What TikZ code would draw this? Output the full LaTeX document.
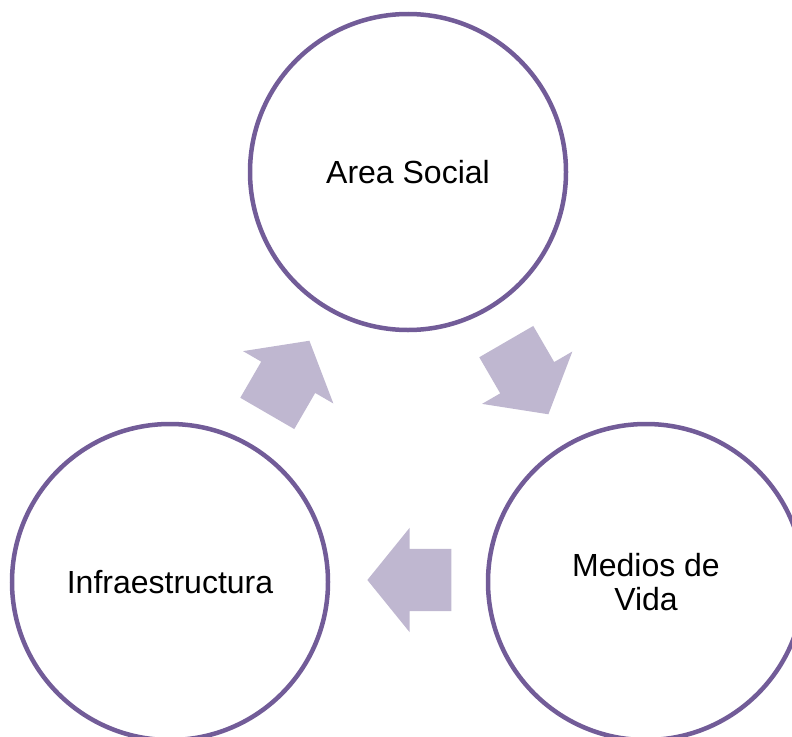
\documentclass[tikz,border=0pt]{standalone}
\usepackage{fontspec}
\setmainfont{Liberation Sans}
\usetikzlibrary{shapes.arrows}

\definecolor{ringpurple}{RGB}{114,92,152}
\definecolor{flowlilac}{RGB}{191,183,208}

\begin{document}
\begin{tikzpicture}[x=1pt,y=-1pt]
        \tikzstyle{area}=[circle,draw=ringpurple,line width=4.5pt,fill=white,minimum size=316pt,inner sep=0pt,align=center,font=\fontsize{32}{34}\selectfont]
        \tikzstyle{flow}=[single arrow,fill=flowlilac,draw=none,inner xsep=0pt,inner ysep=31pt,minimum height=84pt,minimum width=104pt,single arrow head extend=21pt,single arrow tip angle=102]

        \useasboundingbox (0,0) rectangle (792,736);
        \clip (0,0) rectangle (792,736);

       \begin{scope}

         \node [area] (social) at (408,172) {Area Social};
         \node [area] (medios) at (646,582) {Medios de\\Vida};
         \node [area] (infra) at (170,582) {Infraestructura};

         \node [flow, rotate=-59.9] (f1) at (521,367) {};
         \node [flow, rotate=180] (f2) at (422,580) {};
         \node [flow, rotate=59.9] (f3) at (282,388) {};

        \end{scope}
      \end{tikzpicture}
\end{document}
